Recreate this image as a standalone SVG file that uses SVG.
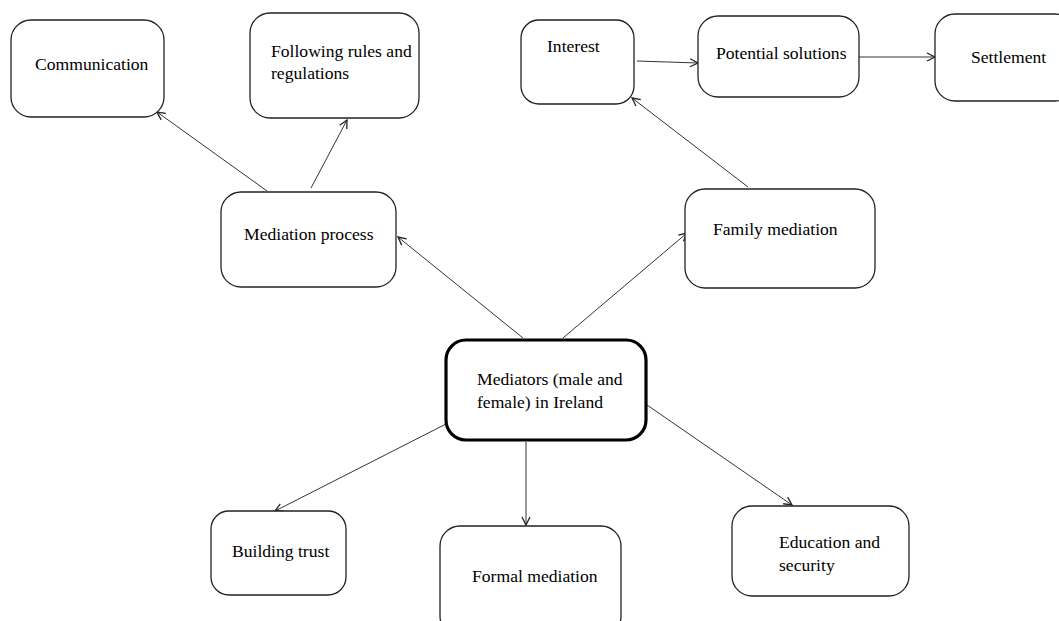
<svg xmlns="http://www.w3.org/2000/svg" width="1059" height="621" viewBox="0 0 1059 621">
<style>
.box{fill:#fff;stroke:#222;stroke-width:1.3}
.main{fill:#fff;stroke:#000;stroke-width:3.2}
.t{font-family:"Liberation Serif","Times New Roman",serif;font-size:17.6px;fill:#000}
.c{stroke:#333;stroke-width:1;fill:none;marker-end:url(#arr)}
</style>
<defs>
<marker id="arr" viewBox="0 0 10 10" refX="9" refY="5" markerWidth="10" markerHeight="10" markerUnits="userSpaceOnUse" orient="auto">
<path d="M1,1 L9,5 L1,9" fill="none" stroke="#222" stroke-width="1.3"/>
</marker>
</defs>
<rect width="1059" height="621" fill="#fff"/>
<g id="connectors">
<line class="c" x1="523" y1="338" x2="398" y2="237"/>
<line class="c" x1="563" y1="338" x2="687" y2="233"/>
<line class="c" x1="446" y1="424" x2="275" y2="511"/>
<line class="c" x1="526" y1="442" x2="526" y2="525"/>
<line class="c" x1="647" y1="405" x2="792" y2="505"/>
<line class="c" x1="267" y1="191" x2="157" y2="112"/>
<line class="c" x1="311" y1="188" x2="347" y2="120"/>
<line class="c" x1="748" y1="187" x2="632" y2="98"/>
<line class="c" x1="637" y1="61" x2="698" y2="63"/>
<line class="c" x1="859" y1="57" x2="935" y2="57"/>
</g>
<g id="communication">
<rect class="box" x="11" y="20" width="153" height="97" rx="20"/>
<text class="t" x="35" y="70">Communication</text>
</g>
<g id="following-rules">
<rect class="box" x="250" y="13" width="169" height="105" rx="20"/>
<text class="t" x="271" y="57">Following rules and</text>
<text class="t" x="271" y="79">regulations</text>
</g>
<g id="mediation-process">
<rect class="box" x="221" y="192" width="175" height="95" rx="20"/>
<text class="t" x="244" y="240">Mediation process</text>
</g>
<g id="interest">
<rect class="box" x="521" y="20" width="113" height="84" rx="18"/>
<text class="t" x="547" y="52">Interest</text>
</g>
<g id="potential-solutions">
<rect class="box" x="698" y="16" width="161" height="81" rx="20"/>
<text class="t" x="716" y="59">Potential solutions</text>
</g>
<g id="settlement">
<rect class="box" x="935" y="14" width="140" height="87" rx="20"/>
<text class="t" x="971" y="63">Settlement</text>
</g>
<g id="family-mediation">
<rect class="box" x="685" y="189" width="190" height="99" rx="20"/>
<text class="t" x="713" y="235">Family mediation</text>
</g>
<g id="mediators">
<rect class="main" x="446" y="340" width="200" height="100" rx="20"/>
<text class="t" x="477" y="385">Mediators (male and</text>
<text class="t" x="477" y="408">female) in Ireland</text>
</g>
<g id="building-trust">
<rect class="box" x="211" y="511" width="135" height="84" rx="18"/>
<text class="t" x="232" y="557">Building trust</text>
</g>
<g id="formal-mediation">
<rect class="box" x="440" y="526" width="181" height="110" rx="20"/>
<text class="t" x="472" y="582">Formal mediation</text>
</g>
<g id="education-security">
<rect class="box" x="732" y="506" width="177" height="90" rx="20"/>
<text class="t" x="779" y="548">Education and</text>
<text class="t" x="779" y="571">security</text>
</g>
</svg>
